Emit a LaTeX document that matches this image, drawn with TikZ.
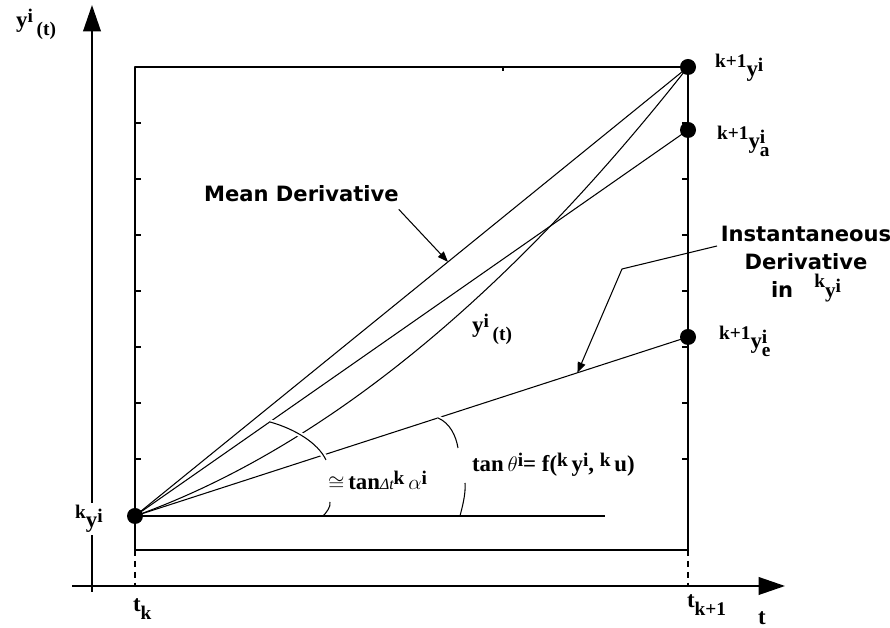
\documentclass[tikz,border=0pt]{standalone}
\usepackage{fontspec}
\setmainfont{Liberation Serif}
\setsansfont{DejaVu Sans}
\usetikzlibrary{arrows.meta,calc,positioning}

\newcommand\hi[1]{\raisebox{3pt}{\fontsize{11}{12}\selectfont#1}}
\newcommand\lo[1]{\raisebox{-4pt}{\fontsize{11}{12}\selectfont#1}}
\newcommand\pre[1]{\raisebox{5.5pt}{\fontsize{11}{12}\selectfont#1}}

\begin{document}
\begin{tikzpicture}[line join=round,x=0.02cm,y=0.02cm,>={Triangle[length=15pt,width=10pt]},
	axis/.style={line width=1.1pt},
	thinline/.style={line width=0.6pt},
	mth/.style={font=\bfseries\fontsize{13}{15}\selectfont,inner sep=1pt},
	txt/.style={font=\sffamily\bfseries\fontsize{12}{16}\selectfont,inner sep=1pt},
	lead/.style={line width=0.6pt,-{Triangle[length=6pt,width=4.5pt]}},
	angarc/.style={line width=0.6pt,preaction={draw=white,line width=3pt}}]
			\useasboundingbox (0,0) rectangle (890,628);
			% axes and frame
			\draw[axis,->] (92,36) -- (92,623);
			\draw[axis,->] (72,42) -- (785,42);
			\draw[axis] (135,78) rectangle (688,561);
			\draw[axis,dash pattern=on 3.4pt off 2.8pt] (135,78) -- (135,42);
			\draw[axis,dash pattern=on 3.4pt off 2.8pt] (688,78) -- (688,42);
			\foreach \y in {169,225,...,505} {
				\draw[thinline] (135,\y) -- +(6,0);
				\draw[thinline] (688,\y) -- +(-6,0);
			}
			\draw[thinline] (503,561) -- +(0,-4);
			% points
			\coordinate (yk) at (135,112);
			\coordinate (ykp) at (688,561);
			\coordinate (yka) at (688,498);
			\coordinate (yke) at (688,291);
			\coordinate (hend) at (605,112);
			% slopes
			\draw[thinline] (yk) -- (ykp);
			\draw[thinline] (yk) -- (yka);
			\draw[thinline] (yk) -- (yke);
			\draw[thinline] (yk) .. controls (319,178) and (504,327) .. (ykp);
			\draw[axis] (yk) -- (hend);
			% angles
			\draw[angarc] (270,206) .. controls (295,199) and (318,185) .. (326,168);
			\draw[thinline] (330,126) .. controls (331,121) and (326,115) .. (323,112);
			\draw[angarc] (438,210) .. controls (450,205) and (456,192) .. (458,180);
			\draw[thinline] (465,145) .. controls (466,134) and (462,120) .. (460,112);
			\foreach \p in {yk,ykp,yka,yke}
				\fill (\p) circle[radius=8];
			% labels
			\node[mth,anchor=base west] (ly) at (14,600) {y\hi{i}\,\lo{(t)}};
			\node[mth,anchor=base west] (lykp) at (713,551) {\pre{k+1}y\hi{i}};
			\node[mth,anchor=base west] (lyka) at (715,479) {\pre{k+1}y\rlap{\hi{i}}\lo{a}};
			\node[mth,anchor=base west] (lyke) at (717,279) {\pre{k+1}y\rlap{\hi{i}}\lo{e}};
			\node[mth,anchor=base west,fill=white] (lyk) at (73,100) {\pre{k}y\hi{i}};
			\node[mth,anchor=base west] (ltk) at (131,16) {t\lo{k}};
			\node[mth,anchor=base west] (ltkp) at (685,20) {t\lo{k+1}};
			\node[mth,anchor=base west] (lt) at (756,3) {t};
			\node[mth,anchor=base west] (lcurve) at (470,295) {y\hi{i}\,\lo{(t)}};
			\node[mth,anchor=base west] (lalpha) at (326,138) {$\cong$\,tan{\fontsize{9}{10}\selectfont\mdseries\itshape Δt}\hi{k}\,$\alpha$\hi{i}};
			\node[mth,anchor=base west] (ltheta) at (470,156) {tan\,$\theta$\hi{i}= f(\hi{k}\,y\hi{i}, \hi{k}\,u)};
			\node[txt,anchor=base west] (md) at (202,426) {Mean Derivative};
			\node[txt,align=center] (inst) at (806,364) {Instantaneous\\Derivative\\in\quad{\rmfamily\pre{k}y\hi{i}}};
			% leaders
			\coordinate (mdtip) at ($(yk)!0.566!(ykp)$);
			\coordinate (insttip) at ($(yk)!0.8!(yke)$);
			\coordinate (instbend) at (622,359);
			\draw[lead] ($(md.south east)+(-2,-5)$) -- (mdtip);
			\draw[lead] (717,382) -- (instbend) -- (insttip);
\end{tikzpicture}
\end{document}
